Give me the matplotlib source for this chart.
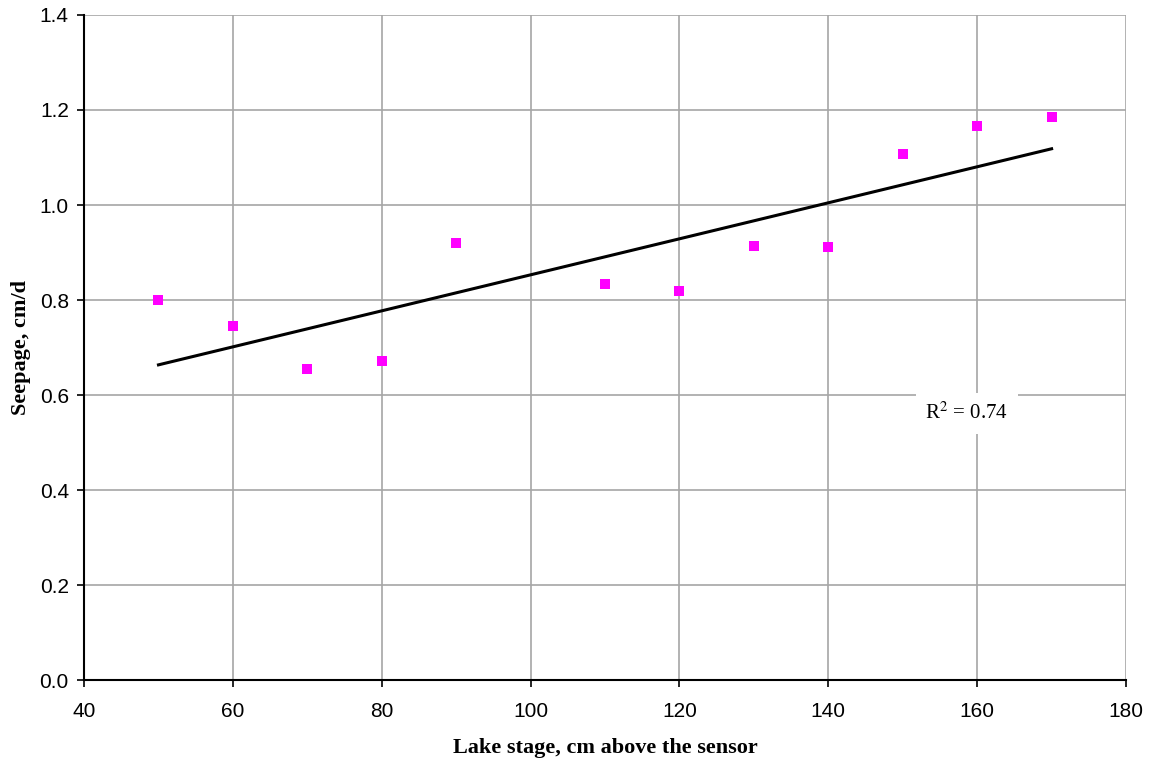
import numpy as np
import matplotlib
matplotlib.use("Agg")
import matplotlib.pyplot as plt

# Lake stage (cm above the sensor) vs seepage (cm/d)
stage = [50, 60, 70, 80, 90, 110, 120, 130, 140, 150, 160, 170]
seepage = [0.800, 0.745, 0.655, 0.672, 0.920, 0.833, 0.820, 0.914, 0.911, 1.108, 1.166, 1.185]
r2_label = "R$^2$ = 0.74"

x_ticks = [40, 60, 80, 100, 120, 140, 160, 180]
y_ticks = [0.0, 0.2, 0.4, 0.6, 0.8, 1.0, 1.2, 1.4]

tick_font = ["Liberation Sans Narrow", "Liberation Sans", "DejaVu Sans"]
serif_font = ["Liberation Serif", "DejaVu Serif"]
plt.rcParams["mathtext.fontset"] = "stix"

fig = plt.figure(figsize=(11.53, 7.61), dpi=100)
ax = fig.add_axes([0.0729, 0.1064, 0.9037, 0.8739])

# linear trend line
x = np.array(stage, dtype=float)
y = np.array(seepage)
slope, intercept = np.polyfit(x, y, 1)
xf = np.array([x.min(), x.max()])
ax.plot(xf, slope * xf + intercept, color="black", lw=2.2, zorder=3)

ax.plot(stage, seepage, linestyle="none", marker="s", markersize=7,
        color="#ff00ff", markeredgewidth=0, zorder=4)

ax.set_xlim(40, 180)
ax.set_ylim(0, 1.4)
ax.set_xticks(x_ticks)
ax.set_yticks(y_ticks)
ax.set_xticklabels([str(v) for v in x_ticks], family=tick_font, fontsize=15)
ax.set_yticklabels([f"{v:.1f}" for v in y_ticks], family=tick_font, fontsize=15)
ax.tick_params(direction="out", length=5, width=1.2, color="black")
ax.tick_params(axis="x", pad=11)
ax.tick_params(axis="y", pad=6)

ax.grid(True, color="#a6a6a6", lw=1.2)
ax.set_axisbelow(True)
for side in ("top", "right"):
    ax.spines[side].set_visible(False)
for side in ("left", "bottom"):
    ax.spines[side].set_linewidth(1.5)
    ax.spines[side].set_zorder(5)

ax.set_xlabel("Lake stage, cm above the sensor", family=serif_font,
              fontweight="bold", fontsize=16, labelpad=12)
ax.set_ylabel("Seepage, cm/d", family=serif_font, fontweight="bold",
              fontsize=16, labelpad=6)

ax.text(158.6, 0.562, r2_label, family=serif_font, fontsize=15,
        ha="center", va="center", zorder=6,
        bbox=dict(facecolor="white", edgecolor="none", pad=7))

fig.savefig("out.png", dpi=100)
